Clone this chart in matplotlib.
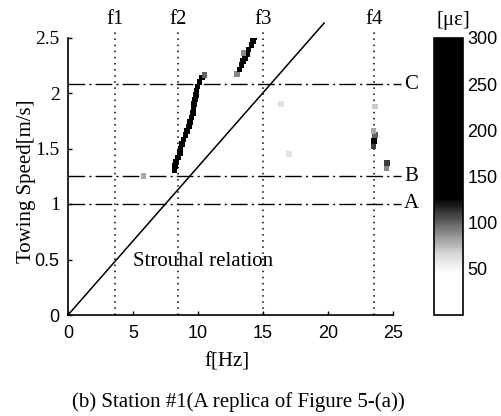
import matplotlib
matplotlib.use("Agg")
import matplotlib.pyplot as plt
from matplotlib.colors import LinearSegmentedColormap, Normalize

# ---------------- data ----------------
freq_ticks = [0, 5, 10, 15, 20, 25]
speed_ticks = [0, 0.5, 1, 1.5, 2, 2.5]
speed_tick_labels = ["0", "0.5", "1", "1.5", "2", "2.5"]
cbar_ticks = [50, 100, 150, 200, 250, 300]

natural_freqs = [3.6, 8.45, 15.0, 23.55]
natural_labels = ["f1", "f2", "f3", "f4"]

speed_levels = [1.0, 1.25, 2.08]
speed_labels = ["A", "B", "C"]

strouhal_f = [0, 19.7]
strouhal_v = [0, 2.63]

# response peaks: frequency [Hz], towing speed [m/s], strain [microstrain]
peak_f = [8.2, 8.25, 8.3, 8.45, 8.6, 8.65, 8.75, 8.9, 9.05, 9.15, 9.3, 9.4,
          9.5, 9.6, 9.65, 9.7, 9.75, 9.85, 9.9, 9.95, 10.1, 10.3, 10.5,
          13.0, 13.2, 13.35, 13.45, 13.6, 13.8, 13.9, 14.1, 14.25, 14.3, 13.5,
          23.5, 23.55, 23.6, 23.5, 23.6, 24.5, 24.55,
          5.8, 17.0, 16.4]
peak_v = [1.30, 1.34, 1.38, 1.42, 1.46, 1.50, 1.54, 1.58, 1.62, 1.66, 1.70, 1.74,
          1.78, 1.82, 1.86, 1.90, 1.94, 1.98, 2.02, 2.06, 2.10, 2.14, 2.16,
          2.17, 2.21, 2.25, 2.29, 2.31, 2.35, 2.39, 2.43, 2.47, 2.50, 2.36,
          1.52, 1.57, 1.62, 1.66, 1.88, 1.32, 1.37,
          1.25, 1.45, 1.90]
peak_s = [250, 280, 200, 260, 280, 260, 290, 280, 300, 280, 300, 290,
          300, 300, 300, 300, 300, 300, 300, 300, 300, 280, 100,
          90, 250, 280, 200, 300, 300, 300, 300, 300, 300, 90,
          110, 130, 100, 80, 70, 90, 110,
          80, 60, 60]

# ---------------- figure ----------------
fig = plt.figure(figsize=(5.02, 4.16), dpi=100)
serif = ["Liberation Serif", "DejaVu Serif"]
sans = ["Liberation Sans", "DejaVu Sans"]
FS = 15
NS = 13

ax = fig.add_axes([68 / 502, 101 / 416, 325 / 502, 277.5 / 416])
ax.set_xlim(0, 25)
ax.set_ylim(0, 2.5)

cmap = LinearSegmentedColormap.from_list(
    "strain",
    [(0.0, "white"), (0.15, "white"), (0.22, "#d8d8d8"), (0.32, "#707070"),
     (0.42, "black"), (1.0, "black")])
norm = Normalize(0, 300)

sc = ax.scatter(peak_f, peak_v, c=peak_s, cmap=cmap, norm=norm, marker="s",
                s=16, linewidths=0, zorder=3)

# Strouhal relation
ax.plot(strouhal_f, strouhal_v, color="black", lw=1.1, clip_on=False)
ax.text(5.0, 0.48, "Strouhal relation", family=serif, fontsize=FS,
        va="center", ha="left")

# natural frequencies
for f, lab in zip(natural_freqs, natural_labels):
    ax.plot([f, f], [0, 2.58], color="black", ls=(0, (1, 3)), lw=1.1,
            clip_on=False)
    ax.text(f, 2.66, lab, family=serif, fontsize=FS, ha="center",
            va="center")

# towing speed levels
for v, lab in zip(speed_levels, speed_labels):
    ax.plot([0, 25.6], [v, v], color="black", lw=1.0,
            ls=(0, (12, 3, 1.5, 3)), clip_on=False)
    ax.text(26.4, v, lab, family=serif, fontsize=FS, ha="center",
            va="center")

ax.spines["top"].set_visible(False)
ax.spines["right"].set_visible(False)
ax.spines["left"].set_linewidth(1.2)
ax.spines["bottom"].set_linewidth(1.2)
ax.set_xticks(freq_ticks)
ax.set_xticklabels([str(t) for t in freq_ticks], family=sans, fontsize=NS)
ax.set_yticks(speed_ticks)
ax.set_yticklabels(speed_tick_labels, family=serif, fontsize=14)
for t in ax.get_yticklabels()[:2]:
    t.set_family(sans)
    t.set_fontsize(NS)
ax.tick_params(direction="in", length=3, width=1)
ax.tick_params(axis="x", pad=7)
ax.tick_params(axis="y", pad=6)
ax.set_xlabel("f[Hz]", family=serif, fontsize=FS, va="center")
ax.set_ylabel("Towing Speed[m/s]", family=serif, fontsize=FS, va="center")
ax.xaxis.set_label_coords((227 - 68) / 325, -(362 - 315) / 277.5)
ax.yaxis.set_label_coords(-(68 - 27) / 325, (315 - 181) / 277.5)

# colorbar
cax = fig.add_axes([434 / 502, 101 / 416, 29 / 502, 277 / 416])
cb = fig.colorbar(sc, cax=cax, ticks=cbar_ticks)
cb.ax.tick_params(length=0, labelsize=NS, pad=3)
for t in cb.ax.get_yticklabels():
    t.set_family(sans)
cb.outline.set_linewidth(1.2)
fig.text(453 / 502, 1 - 20 / 416, "[\u03bc\u03b5]", family=serif,
         fontsize=FS, ha="center", va="center")

fig.text(238 / 502, 1 - 402 / 416, "(b) Station #1(A replica of Figure 5-(a))",
         family=serif, fontsize=FS, ha="center", va="center")

fig.savefig("out.png", dpi=100)
